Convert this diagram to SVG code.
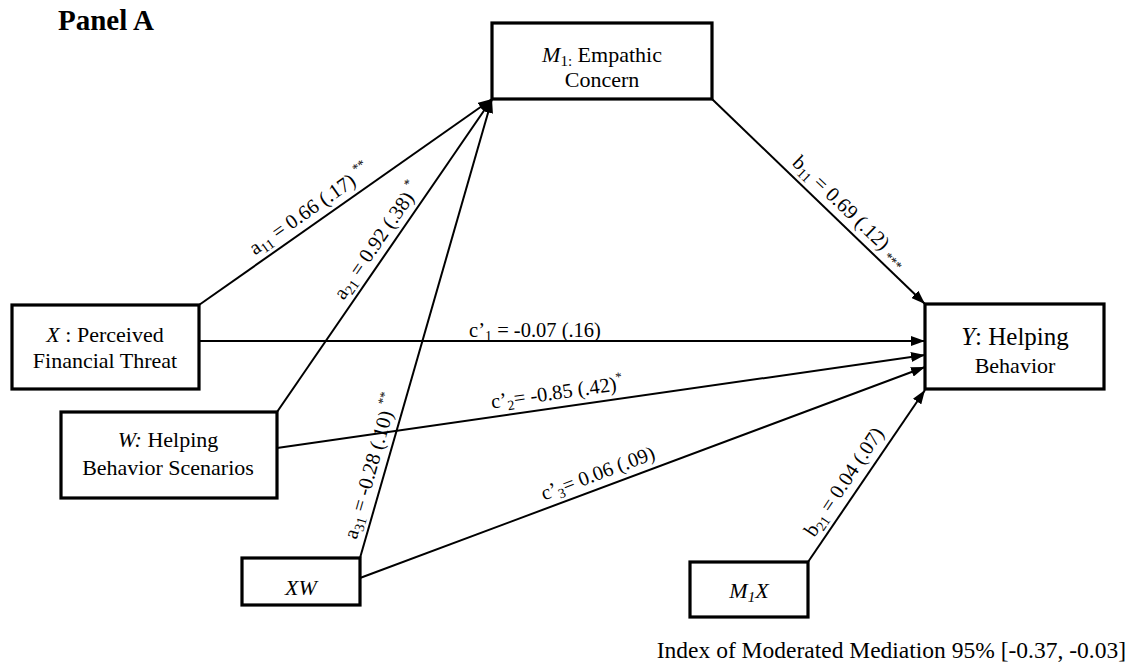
<svg xmlns="http://www.w3.org/2000/svg" width="1147" height="666" viewBox="0 0 1147 666">
<style>
text{font-family:"Liberation Serif","Times New Roman",serif;fill:#000}
.box{fill:#fff;stroke:#000;stroke-width:3.2}
.nt{font-size:22px;text-anchor:middle}
.lbl{font-size:20.5px;text-anchor:middle}
.sb{font-size:14px}
.sp{font-size:13px}
.edge{stroke:#000;stroke-width:2;fill:none;marker-end:url(#arr)}
</style>
<defs>
<marker id="arr" viewBox="0 0 14 10" refX="14" refY="5" markerWidth="14" markerHeight="10" markerUnits="userSpaceOnUse" orient="auto">
<path d="M0,0 L14,5 L0,10 z" fill="#000"/>
</marker>
</defs>
<rect width="1147" height="666" fill="#fff"/>
<text x="58" y="30" font-size="29" font-weight="bold">Panel A</text>
<g id="connectors">
<line class="edge" x1="199" y1="305" x2="492" y2="99"/>
<line class="edge" x1="277" y1="412" x2="492" y2="99"/>
<line class="edge" x1="360" y1="558" x2="492" y2="99"/>
<line class="edge" x1="712" y1="99" x2="925" y2="304"/>
<line class="edge" x1="199" y1="341" x2="925" y2="341"/>
<line class="edge" x1="277" y1="448" x2="925" y2="355"/>
<line class="edge" x1="360" y1="578" x2="925" y2="367"/>
<line class="edge" x1="808" y1="562" x2="925" y2="390"/>
<g class="labels">
<text class="lbl" transform="translate(318,221) rotate(-35.1)" y="-8">a<tspan class="sb" dy="4">11</tspan><tspan dy="-4"> = 0.66 (.17) </tspan><tspan class="sp" dy="-9">**</tspan></text>
<text class="lbl" transform="translate(389,249) rotate(-55.5)" y="-8">a<tspan class="sb" dy="4">21</tspan><tspan dy="-4"> = 0.92 (.38) </tspan><tspan class="sp" dy="-9">*</tspan></text>
<text class="lbl" transform="translate(385,470) rotate(-74)" y="-8">a<tspan class="sb" dy="4">31</tspan><tspan dy="-4"> = -0.28 (.10) </tspan><tspan class="sp" dy="-9">**</tspan></text>
<text class="lbl" transform="translate(840,222) rotate(43.9)" y="-8">b<tspan class="sb" dy="4">11</tspan><tspan dy="-4"> = 0.69 (.12) </tspan><tspan class="sp" dy="4">***</tspan></text>
<text class="lbl" x="535" y="337">c’<tspan class="sb" dy="4">1</tspan><tspan dy="-4"> = -0.07 (.16)</tspan></text>
<text class="lbl" transform="translate(559,407) rotate(-8.2)" y="-8">c’<tspan class="sb" dy="4">2</tspan><tspan dy="-4">= -0.85 (.42)</tspan><tspan class="sp" dy="-9">*</tspan></text>
<text class="lbl" transform="translate(603,487) rotate(-20.5)" y="-8">c’<tspan class="sb" dy="4">3</tspan><tspan dy="-4">= 0.06 (.09)</tspan></text>
<text class="lbl" transform="translate(856,490) rotate(-56.1)" y="-8">b<tspan class="sb" dy="4">21</tspan><tspan dy="-4"> = 0.04 (.07)</tspan></text>
</g>
</g>
<g id="node-m1">
<rect class="box" x="492" y="23" width="220" height="76"/>
<text class="nt" x="602" y="62"><tspan font-style="italic">M</tspan><tspan dy="4" font-size="15">1:</tspan><tspan dy="-4"> Empathic</tspan></text>
<text class="nt" x="602" y="87">Concern</text>
</g>
<g id="node-x">
<rect class="box" x="12" y="305" width="187" height="84"/>
<text class="nt" x="105" y="342"><tspan font-style="italic">X</tspan> : Perceived</text>
<text class="nt" x="105" y="368">Financial Threat</text>
</g>
<g id="node-w">
<rect class="box" x="61" y="412" width="216" height="86"/>
<text class="nt" x="168" y="447"><tspan font-style="italic">W:</tspan> Helping</text>
<text class="nt" x="168" y="475">Behavior Scenarios</text>
</g>
<g id="node-xw">
<rect class="box" x="242" y="558" width="118" height="47"/>
<text class="nt" x="301" y="595" font-style="italic">XW</text>
</g>
<g id="node-y">
<rect class="box" x="925" y="304" width="179" height="85"/>
<text x="1015" y="345" font-size="25" text-anchor="middle"><tspan font-style="italic">Y</tspan>: Helping</text>
<text x="1015" y="373" font-size="22" text-anchor="middle">Behavior</text>
</g>
<g id="node-m1x">
<rect class="box" x="690" y="562" width="118" height="55"/>
<text class="nt" x="749" y="598" font-style="italic">M<tspan dy="4" font-size="15">1</tspan><tspan dy="-4">X</tspan></text>
</g>
<text x="1126" y="658" font-size="23.5" text-anchor="end">Index of Moderated Mediation 95% [-0.37, -0.03]</text>
</svg>
